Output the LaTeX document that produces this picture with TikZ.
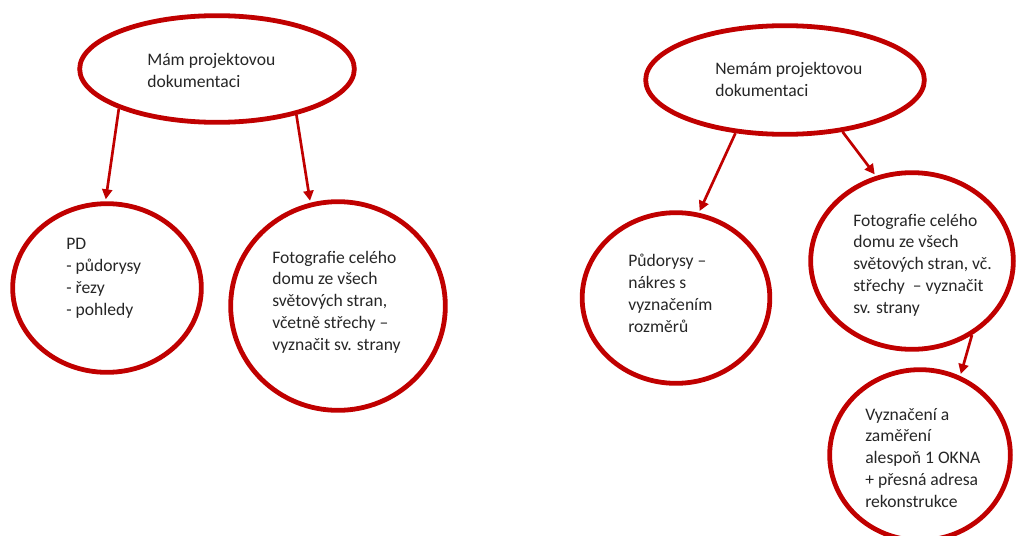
\documentclass[tikz,border=0pt]{standalone}
\usepackage{fontspec}
\setmainfont{Carlito}
\usetikzlibrary{shapes.geometric,arrows.meta}
\definecolor{dred}{RGB}{192,0,0}
\begin{document}
\begin{tikzpicture}[x=0.75pt,y=-0.75pt,
  shapeE/.style={ellipse, draw=dred, line width=3.6pt, inner sep=0pt},
  txt/.style={anchor=base west, align=left, inner sep=0pt, font=\fontsize{13.2pt}{16.3pt}\selectfont, text=black!85},
  conn/.style={draw=dred, line width=2pt, -{Triangle[length=7.5pt,width=7.5pt]}, shorten >=1.5pt}]
\useasboundingbox (0,0) rectangle (1019,535);
\clip (0,0) rectangle (1019,535);
\node[shapeE, minimum width=206pt, minimum height=80pt] (e1) at (217,69) {};
\node[shapeE, minimum width=209pt, minimum height=81.5pt] (e2) at (785,80) {};
\node[shapeE, minimum width=141.5pt, minimum height=126.5pt] (pd) at (107,288) {};
\node[shapeE, minimum width=161pt, minimum height=156.5pt] (fl) at (338,306) {};
\node[shapeE, minimum width=140.75pt, minimum height=128pt] (pu) at (676,298) {};
\node[shapeE, minimum width=152pt, minimum height=132.5pt] (fr) at (912,261) {};
\node[shapeE, minimum width=135.5pt, minimum height=128pt] (vy) at (920,455) {};

\node[txt] (t1) at (147,87) {Mám projektovou\\dokumentaci};
\node[txt] (t2) at (715,96) {Nemám projektovou\\dokumentaci};
\node[txt] (t3) at (66,315) {PD\\- půdorysy\\- řezy\\- pohledy};
\node[txt] (t4) at (272,350) {Fotografie celého\\domu ze všech\\světových stran,\\včetně střechy –\\vyznačit sv. strany};
\node[txt] (t5) at (628,332) {Půdorysy –\\nákres s\\vyznačením\\rozměrů};
\node[txt] (t6) at (853,313) {Fotografie celého\\domu ze všech\\světových stran, vč.\\střechy \ – vyznačit\\sv. strany};
\node[txt] (t7) at (865,507) {Vyznačení a\\zaměření\\alespoň 1 OKNA\\+ přesná adresa\\rekonstrukce};

\draw[conn] (e1.202) -- (pd.91);
\draw[conn] (e1.330) -- (fl.105);
\draw[conn] (e2.227) -- (pu.75);
\draw[conn] (e2.318) -- (fr.113);
\draw[conn] (fr.309) -- (vy.63);
\end{tikzpicture}
\end{document}
